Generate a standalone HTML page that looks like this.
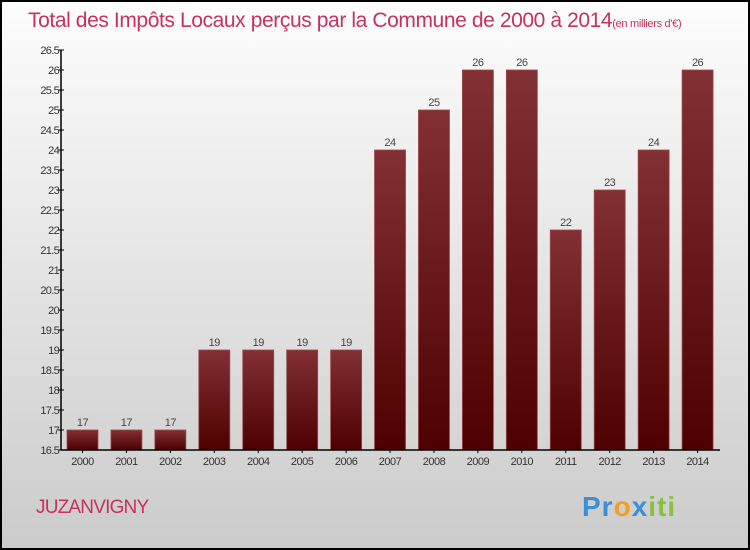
<!DOCTYPE html>
<html><head><meta charset="utf-8"><style>
body{margin:0;width:750px;height:550px;overflow:hidden}
svg{display:block;font-family:"Liberation Sans",sans-serif}
</style></head><body>
<svg width="750" height="550">
<defs>
<linearGradient id="bg" x1="0" y1="0" x2="0" y2="1"><stop offset="0" stop-color="#fdfdfd"/><stop offset="1" stop-color="#cbcbcb"/></linearGradient>
<linearGradient id="bar" x1="0" y1="0" x2="0" y2="1"><stop offset="0" stop-color="#823034"/><stop offset="1" stop-color="#4e0000"/></linearGradient>
</defs>
<rect x="1" y="1" width="748" height="548" fill="url(#bg)" stroke="#000" stroke-width="2"/>
<text x="28" y="27" font-size="21" fill="#c8305e" letter-spacing="-0.4">Total des Impôts Locaux perçus par la Commune de 2000 à 2014<tspan font-size="11" letter-spacing="-0.3">(en milliers d'€)</tspan></text>
<g id="plot"></g>
<text x="36" y="513" font-size="19" fill="#c8305e" letter-spacing="-0.8">JUZANVIGNY</text>
<text x="582" y="516" font-size="28" font-weight="bold" letter-spacing="1"><tspan fill="#3b8fd4">Pr</tspan><tspan fill="#f0a020">o</tspan><tspan fill="#3b8fd4">x</tspan><tspan fill="#88c040">iti</tspan></text>
</svg>
<script>
const categories=["2000","2001","2002","2003","2004","2005","2006","2007","2008","2009","2010","2011","2012","2013","2014"];
const values=[17,17,17,19,19,19,19,24,25,26,26,22,23,24,26];
const yTicks=[16.5,17,17.5,18,18.5,19,19.5,20,20.5,21,21.5,22,22.5,23,23.5,24,24.5,25,25.5,26,26.5];
const NS="http://www.w3.org/2000/svg",g=document.getElementById('plot');
const x0=61,x1=720,yTop=50,yBot=450,vMin=16.5,vMax=26.5;
const y=v=>yBot-(v-vMin)/(vMax-vMin)*(yBot-yTop);
const slot=(x1-x0)/categories.length;
const x=i=>x0+i*slot;
function mk(t,a){const e=document.createElementNS(NS,t);for(const k in a)e.setAttribute(k,a[k]);g.appendChild(e);return e;}
values.forEach((v,i)=>{
 const r=mk('rect',{x:x(i)+6,y:y(v),width:31,height:yBot-y(v),fill:'url(#bar)',stroke:'#9a4a4e','stroke-width':0.8});
 
 
 const t=mk('text',{x:x(i)+21.5,y:y(v)-4,'font-size':11,fill:'#444','text-anchor':'middle','letter-spacing':'-0.5'});
 t.textContent=v;
 
 
 const c=mk('text',{x:x(i)+21.5,y:yBot+15,'font-size':11,fill:'#333','text-anchor':'middle','letter-spacing':'-0.5'});
 c.textContent=categories[i];
 
 
 mk('line',{x1:x(i)+21.5,x2:x(i)+21.5,y1:yBot,y2:yBot+3,stroke:'#000'});
});
yTicks.forEach(v=>{
 mk('line',{x1:x0-3,x2:x0+3,y1:y(v),y2:y(v),stroke:'#000'});
 const t=mk('text',{x:x0-2,y:y(v)+4,'font-size':11,fill:'#333','text-anchor':'end','letter-spacing':'-0.7'});
 t.textContent=v;
 
 
});
const ya=mk('line',{x1:x0,x2:x0,y1:yTop,y2:yBot,stroke:'#000','stroke-width':1.5});


const xa=mk('line',{x1:x0,x2:x1,y1:yBot,y2:yBot,stroke:'#000','stroke-width':1.5});


</script>
</body></html>
